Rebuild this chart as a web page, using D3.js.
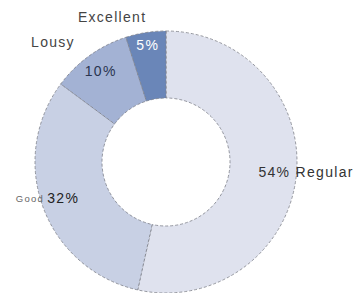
<!DOCTYPE html>
<html>
<head>
<meta charset="utf-8">
<script src="https://cdn.jsdelivr.net/npm/d3@7/dist/d3.min.js"></script>
<style>
  body { margin: 0; background: #fff; }
  svg text { font-family: "Liberation Sans", Arial, sans-serif; letter-spacing: 1.3px; }
</style>
</head>
<body>
<div id="chart"></div>
<script>
// data
var categories = ["Regular", "Good", "Lousy", "Excellent"];
var values = [54, 32, 10, 5];
var colors = ["#dfe2ee", "#c8d0e4", "#a3b2d4", "#6a86b8"];

var width = 358, height = 293;
var cx = 166, cy = 162;
var outerR = 131, innerR = 64;

var svg = d3.select("#chart").append("svg")
    .attr("width", width)
    .attr("height", height);

var g = svg.append("g")
    .attr("transform", "translate(" + cx + "," + cy + ")");

var pie = d3.pie().sort(null).value(function (d) { return d.value; });
var data = pie(categories.map(function (c, i) {
    return { name: c, value: values[i], color: colors[i] };
}));

var arc = d3.arc().innerRadius(innerR).outerRadius(outerR);

g.selectAll("path")
    .data(data)
    .enter().append("path")
    .attr("d", arc)
    .attr("fill", function (d) { return d.data.color; })
    .attr("stroke", "#7d8089")
    .attr("stroke-width", 0.8)
    .attr("stroke-dasharray", "3,2");

// label helpers
function at(r) {
    return d3.arc().innerRadius(r).outerRadius(r);
}

// Regular: pct + name together
var reg = data[0];
var pReg = at(95).centroid(reg);
g.append("text")
    .attr("x", pReg[0] - 2).attr("y", pReg[1])
    .attr("dy", "0.35em")
    .attr("text-anchor", "start")
    .attr("font-size", 14)
    .attr("fill", "#333")
    .text(reg.data.value + "% " + reg.data.name);

// Good: pct at centroid, small name to the left
var good = data[1];
var pGood = at(97).centroid(good);
var goodPct = g.append("text")
    .attr("x", pGood[0] + 4).attr("y", pGood[1] + 2)
    .attr("dy", "0.35em")
    .attr("text-anchor", "end")
    .attr("font-size", 14)
    .attr("fill", "#222")
    .text(good.data.value + "%");
var gb = goodPct.node().getBBox();
g.append("text")
    .attr("x", gb.x - 3).attr("y", pGood[1] + 3)
    .attr("dy", "0.35em")
    .attr("text-anchor", "end")
    .attr("font-size", 9.5)
    .attr("fill", "#666")
    .text(good.data.name);

// Lousy and Excellent: pct inside, name outside
[data[2], data[3]].forEach(function (d, i) {
    var p = at(i === 0 ? 112 : 118).centroid(d);
    g.append("text")
        .attr("x", p[0]).attr("y", p[1])
        .attr("dy", "0.35em")
        .attr("text-anchor", "middle")
        .attr("font-size", 14)
        .attr("fill", i === 0 ? "#2a3550" : "#ffffff")
        .text(d.data.value + "%");
    var q = at(146).centroid(d);
    g.append("text")
        .attr("x", q[0] - (i === 0 ? 6 : -3)).attr("y", q[1] - 1)
        .attr("dy", "0.35em")
        .attr("text-anchor", "end")
        .attr("font-size", 14)
        .attr("fill", "#444")
        .text(d.data.name);
});
</script>
</body>
</html>
